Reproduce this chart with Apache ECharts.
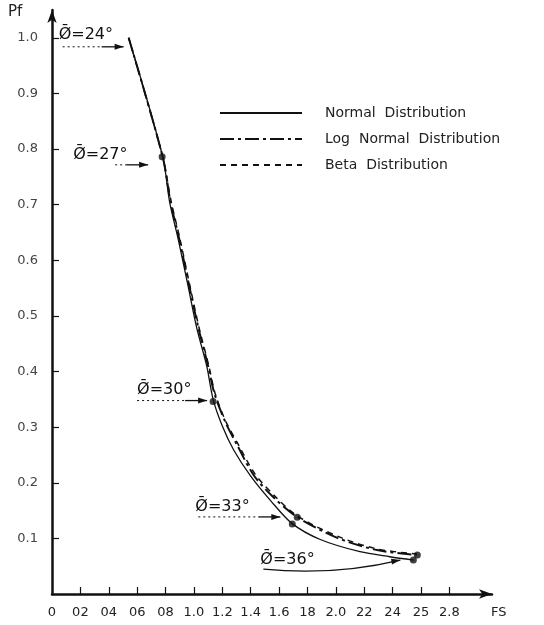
<!DOCTYPE html>
<html><head><meta charset="utf-8">
<script src="https://cdn.jsdelivr.net/npm/echarts@6/dist/echarts.min.js"></script>
<style>html,body{margin:0;padding:0;background:#fff}#c{width:544px;height:625px}</style>
</head><body><div id="c"></div>
<script>
// ---- data ----
const xTickValues = [0, 0.2, 0.4, 0.6, 0.8, 1.0, 1.2, 1.4, 1.6, 1.8, 2.0, 2.2, 2.4, 2.6, 2.8];
const xTickLabels = ["0", "02", "04", "06", "08", "1.0", "1.2", "1.4", "1.6", "18", "2.0", "22", "24", "25", "2.8"];
const yTickValues = [0.1, 0.2, 0.3, 0.4, 0.5, 0.6, 0.7, 0.8, 0.9, 1.0];
const yTickLabels = ["0.1", "0.2", "0.3", "0.4", "0.5", "0.6", "0.7", "0.8", "0.9", "1.0"];

const normalFS = [0.54, 0.78, 0.83, 0.89, 0.96, 1.02, 1.09, 1.135, 1.20, 1.28, 1.40, 1.54, 1.69, 1.89, 2.17, 2.38, 2.55];
const normalPf = [1.00, 0.786, 0.703, 0.637, 0.552, 0.478, 0.41, 0.35, 0.302, 0.259, 0.212, 0.168, 0.127, 0.098, 0.076, 0.067, 0.061];
const logFS = [0.54, 0.78, 0.835, 0.895, 0.965, 1.03, 1.10, 1.145, 1.22, 1.30, 1.42, 1.56, 1.73, 2.01, 2.29, 2.57];
const logPf = [1.00, 0.786, 0.705, 0.64, 0.556, 0.48, 0.41, 0.36, 0.31, 0.27, 0.214, 0.174, 0.138, 0.101, 0.079, 0.070];
const betaFS = [0.54, 0.78, 0.84, 0.90, 0.97, 1.035, 1.105, 1.15, 1.225, 1.31, 1.43, 1.57, 1.73, 2.01, 2.29, 2.57];
const betaPf = [1.00, 0.786, 0.705, 0.64, 0.556, 0.48, 0.41, 0.36, 0.31, 0.27, 0.216, 0.176, 0.14, 0.104, 0.081, 0.072];

const phiAngles = ["24", "27", "30", "33", "36"];
const phiFS = [0.54, 0.776, 1.135, 1.693, 2.546];
const phiPf = [1.00, 0.786, 0.346, 0.126, 0.061];
const phiUpperFS = [1.728, 2.574];
const phiUpperPf = [0.138, 0.070];

const seriesNames = ["Normal Distribution", "Log Normal Distribution", "Beta Distribution"];

// ---- chart ----
const zip = (a, b) => a.map((v, i) => [v, b[i]]);
const lookup = (vals, labels) => v => {
  const i = vals.findIndex(t => Math.abs(t - v) < 1e-6);
  return i >= 0 ? labels[i] : '';
};
const chart = echarts.init(document.getElementById('c'), null, {renderer: 'canvas'});
const ink = '#111';
const font = '"DejaVu Sans", sans-serif';
const noSym = {color: 'rgba(0,0,0,0)', borderColor: 'rgba(0,0,0,0)', borderWidth: 0};

chart.setOption({
  backgroundColor: '#fff',
  animation: false,
  grid: {left: 52, right: 52, top: 10, bottom: 31, containLabel: false},
  xAxis: {
    type: 'value', min: 0, max: 3.1,
    axisLine: {show: true, symbol: ['none', 'arrow'], symbolSize: [7, 13], lineStyle: {color: ink, width: 2.5}},
    axisTick: {show: true, inside: true, length: 7, customValues: xTickValues.slice(1), lineStyle: {color: ink, width: 1.2}},
    axisLabel: {customValues: xTickValues, formatter: lookup(xTickValues, xTickLabels), color: '#222', fontSize: 13, fontFamily: font, margin: 12},
    splitLine: {show: false}
  },
  yAxis: {
    type: 'value', min: 0, max: 1.05,
    axisLine: {show: true, symbol: ['none', 'arrow'], symbolSize: [7, 13], lineStyle: {color: ink, width: 2.5}},
    axisTick: {show: true, inside: true, length: 7, customValues: yTickValues, lineStyle: {color: ink, width: 1.2}},
    axisLabel: {customValues: yTickValues, formatter: lookup(yTickValues, yTickLabels), color: '#444', fontSize: 13, fontFamily: font, margin: 14},
    splitLine: {show: false}
  },
  legend: {
    data: seriesNames, orient: 'vertical', left: 214, top: 101,
    itemWidth: 82, itemHeight: 14, itemGap: 12,
    formatter: n => n.replace(/ /g, '  '),
    textStyle: {color: '#222', fontSize: 14, fontFamily: font, padding: [0, 0, 0, 18]}
  },
  series: [
    {name: seriesNames[0], type: 'line', data: zip(normalFS, normalPf), smooth: 0.3, symbol: 'none',
     itemStyle: noSym, lineStyle: {color: ink, width: 1.3}},
    {name: seriesNames[1], type: 'line', data: zip(logFS, logPf), smooth: 0.3, symbol: 'none',
     itemStyle: noSym, lineStyle: {color: ink, width: 2, type: [14, 4, 3, 4]}},
    {name: seriesNames[2], type: 'line', data: zip(betaFS, betaPf), smooth: 0.3, symbol: 'none',
     itemStyle: noSym, lineStyle: {color: ink, width: 1.5, type: [6, 5]}},
    {name: 'points', type: 'scatter', data: zip(phiFS, phiPf).slice(1), symbolSize: 7, itemStyle: {color: ink}},
    {name: 'points2', type: 'scatter', data: zip(phiUpperFS, phiUpperPf), symbolSize: 7, itemStyle: {color: ink}}
  ]
});

// ---- annotations ----
const layout = [
  {tx: -70, ty: -3, l: [[-66, 9], [-5, 9]]},
  {tx: -89, ty: -2, l: [[-47, 8], [-14, 8]]},
  {tx: -76, ty: -12, l: [[-76, -1], [-6, -1]]},
  {tx: -97, ty: -17, l: [[-94, -7], [-12, -7]]},
  {tx: -153, ty: 0, curve: true}
];
const g = [];
function arrowHead(x, y, ang) {
  const L = 9, W = 3;
  const c = Math.cos(ang), s = Math.sin(ang);
  return {type: 'polygon', shape: {points: [[x, y], [x - L * c - W * s, y - L * s + W * c], [x - L * c + W * s, y - L * s - W * c]]}, style: {fill: ink}};
}
phiAngles.forEach((a, i) => {
  const p = chart.convertToPixel({gridIndex: 0}, [phiFS[i], phiPf[i]]);
  const L = layout[i];
  g.push({type: 'text', x: p[0] + L.tx, y: p[1] + L.ty,
    style: {text: '\u00D8\u0304=' + a + '\u00B0', fill: ink, font: '16px ' + font, verticalAlign: 'middle'}});
  if (L.curve) {
    const x1 = p[0] - 150, y1 = p[1] + 9, x2 = p[0] - 13, y2 = p[1];
    g.push({type: 'bezierCurve', shape: {x1, y1, x2, y2, cpx1: p[0] - 80, cpy1: p[1] + 16},
      style: {stroke: ink, lineWidth: 1.2, fill: null}});
    g.push(arrowHead(x2, y2, Math.atan2(y2 - (p[1] + 8), x2 - (p[0] - 60))));
  } else {
    const [s, e] = L.l;
    const x1 = p[0] + s[0], y1 = p[1] + s[1], x2 = p[0] + e[0], y2 = p[1] + e[1];
    const mx = x2 - 22;
    g.push({type: 'line', shape: {x1, y1, x2: mx, y2}, style: {stroke: ink, lineWidth: 1, lineDash: [2, 3]}});
    g.push({type: 'line', shape: {x1: mx, y1: y2, x2, y2}, style: {stroke: ink, lineWidth: 1.3}});
    g.push(arrowHead(x2, y2, 0));
  }
});
g.push({type: 'text', x: 8, y: 12, style: {text: 'Pf', fill: '#222', font: '15px ' + font, verticalAlign: 'middle'}});
g.push({type: 'text', x: 491, y: 613, style: {text: 'FS', fill: '#222', font: '13px ' + font, verticalAlign: 'middle'}});
chart.setOption({graphic: g});
</script></body></html>
